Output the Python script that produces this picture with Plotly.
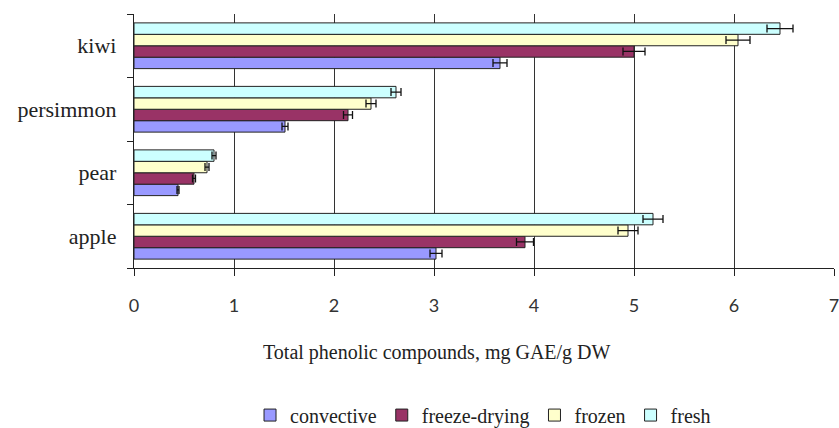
import plotly.graph_objects as go

categories = ["apple", "pear", "persimmon", "kiwi"]
series_names = ["convective", "freeze-drying", "frozen", "fresh"]
convective = [3.02, 0.44, 1.51, 3.66]
convective_err = [0.06, 0.01, 0.03, 0.07]
freeze_drying = [3.91, 0.60, 2.14, 5.00]
freeze_drying_err = [0.085, 0.015, 0.045, 0.11]
frozen = [4.94, 0.73, 2.37, 6.04]
frozen_err = [0.10, 0.02, 0.05, 0.12]
fresh = [5.19, 0.80, 2.62, 6.46]
fresh_err = [0.10, 0.02, 0.05, 0.13]
x_ticks = [0, 1, 2, 3, 4, 5, 6, 7]
x_title = "Total phenolic compounds, mg GAE/g DW"

colors = ["#9999FF", "#993366", "#FFFFCC", "#CCFFFF"]
values = [convective, freeze_drying, frozen, fresh]
errors = [convective_err, freeze_drying_err, frozen_err, fresh_err]

fig = go.Figure()
for name, vals, errs, col in zip(series_names, values, errors, colors):
    fig.add_trace(go.Bar(
        name=name, y=categories, x=vals, orientation="h",
        marker=dict(color=col, line=dict(color="#222222", width=1)),
        error_x=dict(type="data", array=errs, visible=True,
                     color="#111111", thickness=1.3, width=4),
    ))

serif = "Liberation Serif"
fig.update_layout(
    width=839, height=428,
    font=dict(family=serif, size=20, color="#222222"),
    margin=dict(l=134, r=5, t=14, b=160, autoexpand=False),
    paper_bgcolor="white", plot_bgcolor="white",
    barmode="group", bargap=0.28, bargroupgap=0,
    showlegend=True,
    legend=dict(orientation="h", x=0.4986, xanchor="center", y=-0.579,
                yanchor="middle", traceorder="normal",
                font=dict(family=serif, size=20, color="#222222"),
                itemwidth=30, tracegroupgap=0),
    xaxis=dict(range=[0, 7], tickvals=x_ticks, showgrid=True, automargin=False,
               gridcolor="#333333", gridwidth=1.3,
               showline=True, linecolor="#222222", linewidth=1.3,
               ticks="outside", ticklen=7, tickcolor="#222222", tickwidth=1.3,
               ticklabelstandoff=14, ticklabeloverflow="allow",
               tickfont=dict(family="Lato", size=18, color="#333333"),
               zeroline=False),
    yaxis=dict(type="category", categoryorder="array", categoryarray=categories,
               range=[-0.5, 3.5], showgrid=False, automargin=False,
               showline=True, linecolor="#222222", linewidth=1.3,
               ticks="outside", ticklen=6, tickcolor="#222222", tickwidth=1.3,
               tickson="boundaries", ticklabelstandoff=12,
               tickfont=dict(family=serif, size=22, color="#222222")),
    annotations=[dict(text=x_title, xref="paper", yref="paper",
                      x=(437 - 134) / 700, y=(268 - 352) / 254,
                      xanchor="center", yanchor="middle", showarrow=False,
                      font=dict(family=serif, size=20, color="#222222"))],
)

fig.write_html("out.html", config={"displayModeBar": False},
               post_script="document.body.style.margin='0';document.body.style.overflow='hidden';")
